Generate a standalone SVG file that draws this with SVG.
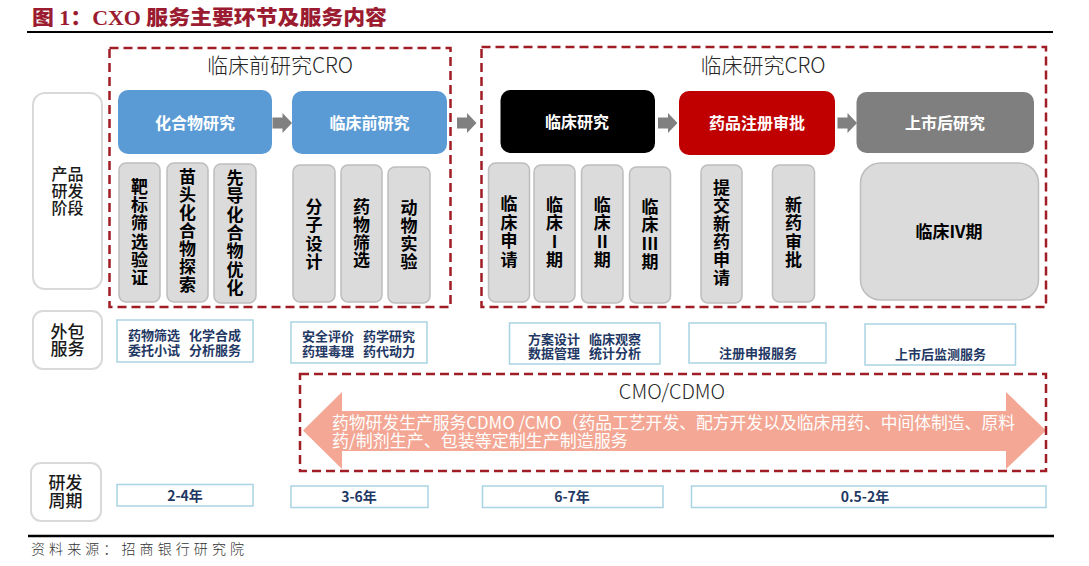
<svg xmlns="http://www.w3.org/2000/svg" width="1089" height="566" viewBox="0 0 1089 566">
<defs>
<style>
text{font-family:"Noto Sans CJK SC","Noto Sans",sans-serif}
.dash{fill:none;stroke:#A01D26;stroke-width:2.5;stroke-dasharray:9 5}
.lbl{fill:#fff;stroke:#D9D9D9;stroke-width:2}
.sub{fill:#DBDBDB;stroke:#BDBDBD;stroke-width:1.5}
.svc{fill:#fff;stroke:#A9D3E3;stroke-width:1.5}
.vt{font-size:17px;font-weight:bold;fill:#000;text-anchor:middle}
.hd{font-size:16px;font-weight:bold;fill:#fff;text-anchor:middle}
.lt{font-size:17px;font-weight:500;fill:#1a1a1a;text-anchor:middle}
.st{font-size:13px;font-weight:bold;fill:#1F3864}
.grp{font-size:21px;font-weight:300;fill:#262626;text-anchor:middle}
.arr{fill:#808080}
</style>
<path id="ga" d="M0,-5.5 H10 V-10 L19.5,0 L10,10 V5.5 H0 Z"/>
</defs>
<rect width="1089" height="566" fill="#fff"/>

<g id="header">
<text x="32" y="25" textLength="355" lengthAdjust="spacingAndGlyphs" style="font-family:'Liberation Serif','Noto Sans CJK SC',serif;font-size:20px;font-weight:900;fill:#9B1B30">图 1：CXO 服务主要环节及服务内容</text>
<line x1="27" y1="32" x2="1053" y2="32" stroke="#000" stroke-width="2.2"/>
</g>

<g id="group-preclinical">
<rect class="dash" x="109.5" y="48" width="341" height="259"/>
<text class="grp" x="280" y="73">临床前研究CRO</text>
</g>
<g id="group-clinical">
<rect class="dash" x="481.5" y="47" width="564.5" height="260"/>
<text class="grp" x="763" y="73">临床研究CRO</text>
</g>

<g id="label-stage">
<rect class="lbl" x="33" y="93" width="69" height="196" rx="12"/>
<text class="lt" style="font-size:16px" x="67.5" y="180">产品<tspan x="67.5" dy="17">研发</tspan><tspan x="67.5" dy="17">阶段</tspan></text>
</g>
<g id="label-outsource">
<rect class="lbl" x="33" y="311" width="69" height="58" rx="10"/>
<text class="lt" x="67.5" y="338">外包<tspan x="67.5" dy="17">服务</tspan></text>
</g>
<g id="label-period">
<rect class="lbl" x="31" y="463" width="70" height="58" rx="10"/>
<text class="lt" x="65.5" y="489">研发<tspan x="65.5" dy="18">周期</tspan></text>
</g>

<g id="node-compound">
<rect x="118" y="90" width="154" height="64" rx="10" fill="#5B9BD5"/>
<text class="hd" x="195" y="128.5">化合物研究</text>
</g>
<g id="node-preclinical">
<rect x="292" y="91" width="155" height="63" rx="10" fill="#5B9BD5"/>
<text class="hd" x="369.5" y="128.5">临床前研究</text>
</g>
<g id="node-clinical">
<rect x="500.5" y="90" width="154.5" height="63" rx="10" fill="#000"/>
<text class="hd" x="577" y="128">临床研究</text>
</g>
<g id="node-approval">
<rect x="679" y="91" width="156" height="64" rx="10" fill="#C00000"/>
<text class="hd" x="757" y="129">药品注册审批</text>
</g>
<g id="node-postmarket">
<rect x="856.5" y="92" width="177.5" height="61" rx="10" fill="#7F7F7F"/>
<text class="hd" x="945" y="128.5">上市后研究</text>
</g>

<g id="sub-target">
<rect class="sub" x="119" y="163" width="41" height="139" rx="7"/>
<text class="vt" x="139.5" y="193">靶<tspan x="139.5" dy="18.2">标</tspan><tspan x="139.5" dy="18.2">筛</tspan><tspan x="139.5" dy="18.2">选</tspan><tspan x="139.5" dy="18.2">验</tspan><tspan x="139.5" dy="18.2">证</tspan></text>
</g>
<g id="sub-hit">
<rect class="sub" x="167" y="163" width="41" height="139" rx="7"/>
<text class="vt" x="187.5" y="183">苗<tspan x="187.5" dy="18">头</tspan><tspan x="187.5" dy="18">化</tspan><tspan x="187.5" dy="18">合</tspan><tspan x="187.5" dy="18">物</tspan><tspan x="187.5" dy="18">探</tspan><tspan x="187.5" dy="18">索</tspan></text>
</g>
<g id="sub-lead">
<rect class="sub" x="214" y="164" width="42" height="139" rx="7"/>
<text class="vt" x="235" y="184">先<tspan x="235" dy="18.3">导</tspan><tspan x="235" dy="18.3">化</tspan><tspan x="235" dy="18.3">合</tspan><tspan x="235" dy="18.3">物</tspan><tspan x="235" dy="18.3">优</tspan><tspan x="235" dy="18.3">化</tspan></text>
</g>
<g id="sub-molecule">
<rect class="sub" x="293" y="165" width="42" height="137" rx="7"/>
<text class="vt" x="314" y="213">分<tspan x="314" dy="18.3">子</tspan><tspan x="314" dy="18.3">设</tspan><tspan x="314" dy="18.3">计</tspan></text>
</g>
<g id="sub-screen">
<rect class="sub" x="341" y="165" width="41" height="137" rx="7"/>
<text class="vt" x="361.5" y="213">药<tspan x="361.5" dy="17.8">物</tspan><tspan x="361.5" dy="17.8">筛</tspan><tspan x="361.5" dy="17.8">选</tspan></text>
</g>
<g id="sub-animal">
<rect class="sub" x="388" y="167" width="42" height="136" rx="7"/>
<text class="vt" x="409" y="214">动<tspan x="409" dy="18">物</tspan><tspan x="409" dy="18">实</tspan><tspan x="409" dy="18">验</tspan></text>
</g>

<g id="sub-ind">
<rect class="sub" x="488.5" y="163" width="41" height="139" rx="7"/>
<text class="vt" x="509" y="210">临<tspan x="509" dy="18.7">床</tspan><tspan x="509" dy="18.7">申</tspan><tspan x="509" dy="18.7">请</tspan></text>
</g>
<g id="sub-phase1">
<rect class="sub" x="534" y="165" width="41" height="137" rx="7"/>
<text class="vt" x="554.5" y="211">临<tspan x="554.5" dy="18.3">床</tspan><tspan x="554.5" dy="18.3">I</tspan><tspan x="554.5" dy="18.3">期</tspan></text>
</g>
<g id="sub-phase2">
<rect class="sub" x="581.5" y="165" width="41.5" height="138" rx="7"/>
<text class="vt" x="602.3" y="211">临<tspan x="602.3" dy="18.3">床</tspan><tspan x="602.3" dy="18.3">II</tspan><tspan x="602.3" dy="18.3">期</tspan></text>
</g>
<g id="sub-phase3">
<rect class="sub" x="629.5" y="167" width="41" height="136" rx="7"/>
<text class="vt" x="650" y="213">临<tspan x="650" dy="18.3">床</tspan><tspan x="650" dy="18.3">III</tspan><tspan x="650" dy="18.3">期</tspan></text>
</g>
<g id="sub-nda">
<rect class="sub" x="701" y="165" width="41" height="138" rx="7"/>
<text class="vt" x="721.5" y="194">提<tspan x="721.5" dy="18">交</tspan><tspan x="721.5" dy="18">新</tspan><tspan x="721.5" dy="18">药</tspan><tspan x="721.5" dy="18">申</tspan><tspan x="721.5" dy="18">请</tspan></text>
</g>
<g id="sub-review">
<rect class="sub" x="772.5" y="165" width="42" height="137" rx="7"/>
<text class="vt" x="793.5" y="211">新<tspan x="793.5" dy="18.3">药</tspan><tspan x="793.5" dy="18.3">审</tspan><tspan x="793.5" dy="18.3">批</tspan></text>
</g>
<g id="sub-phase4">
<rect class="sub" x="860.5" y="163" width="178" height="137" rx="20"/>
<text class="vt" x="949" y="238">临床IV期</text>
</g>

<g id="svc-1">
<rect class="svc" x="117" y="320" width="136" height="42"/>
<text class="st" x="128" y="339.7">药物筛选</text><text class="st" x="189" y="339.7">化学合成</text>
<text class="st" x="128" y="354.7">委托小试</text><text class="st" x="189" y="354.7">分析服务</text>
</g>
<g id="svc-2">
<rect class="svc" x="291" y="322" width="136" height="41"/>
<text class="st" x="302" y="340.7">安全评价</text><text class="st" x="363" y="340.7">药学研究</text>
<text class="st" x="302" y="356">药理毒理</text><text class="st" x="363" y="356">药代动力</text>
</g>
<g id="svc-3">
<rect class="svc" x="509.5" y="323" width="150.5" height="41"/>
<text class="st" x="528" y="343.5">方案设计</text><text class="st" x="589" y="343.5">临床观察</text>
<text class="st" x="528" y="358">数据管理</text><text class="st" x="589" y="358">统计分析</text>
</g>
<g id="svc-4">
<rect class="svc" x="689" y="323" width="137" height="40"/>
<text class="st" x="758" y="357.7" text-anchor="middle">注册申报服务</text>
</g>
<g id="svc-5">
<rect class="svc" x="865" y="324" width="150.5" height="41"/>
<text class="st" x="940.5" y="358.7" text-anchor="middle">上市后监测服务</text>
</g>

<g id="cmo">
<path d="M303,430.5 L342,392 V411 H1006 V392 L1046,430.5 L1006,469 V451 H342 V469 Z" fill="#F3A794"/>
<rect class="dash" x="300" y="374" width="746" height="97"/>
<text x="672" y="399" style="font-size:20px;font-weight:300;fill:#262626;text-anchor:middle">CMO/CDMO</text>
<text x="332" y="428.5" textLength="683" lengthAdjust="spacingAndGlyphs" style="font-size:17px;fill:#fff">药物研发生产服务CDMO /CMO（药品工艺开发、配方开发以及临床用药、中间体制造、原料</text>
<text x="332" y="447" style="font-size:17px;fill:#fff">药/制剂生产、包装等定制生产制造服务</text>
</g>

<g id="period-1">
<rect class="svc" x="117" y="484.5" width="136" height="21.5"/>
<text class="st" style="font-size:14px" x="185" y="500.5" text-anchor="middle">2-4年</text>
</g>
<g id="period-2">
<rect class="svc" x="291" y="486" width="137" height="21.5"/>
<text class="st" style="font-size:14px" x="359" y="501.8" text-anchor="middle">3-6年</text>
</g>
<g id="period-3">
<rect class="svc" x="482.5" y="486" width="180.5" height="21.5"/>
<text class="st" style="font-size:14px" x="572" y="501.8" text-anchor="middle">6-7年</text>
</g>
<g id="period-4">
<rect class="svc" x="691.5" y="486" width="354.5" height="21.5"/>
<text class="st" style="font-size:14px" x="865" y="501.8" text-anchor="middle">0.5-2年</text>
</g>

<g id="connectors">
<use href="#ga" class="arr" x="272.5" y="123"/>
<use href="#ga" class="arr" x="457" y="123"/>
<use href="#ga" class="arr" x="658" y="123"/>
<use href="#ga" class="arr" x="837.5" y="123"/>
</g>

<g id="footer">
<line x1="28" y1="536" x2="1054" y2="536" stroke="#000" stroke-width="2.5"/>
<text x="31" y="554" textLength="213" style="font-size:14px;font-weight:300;fill:#333">资料来源：招商银行研究院</text>
</g>
</svg>
